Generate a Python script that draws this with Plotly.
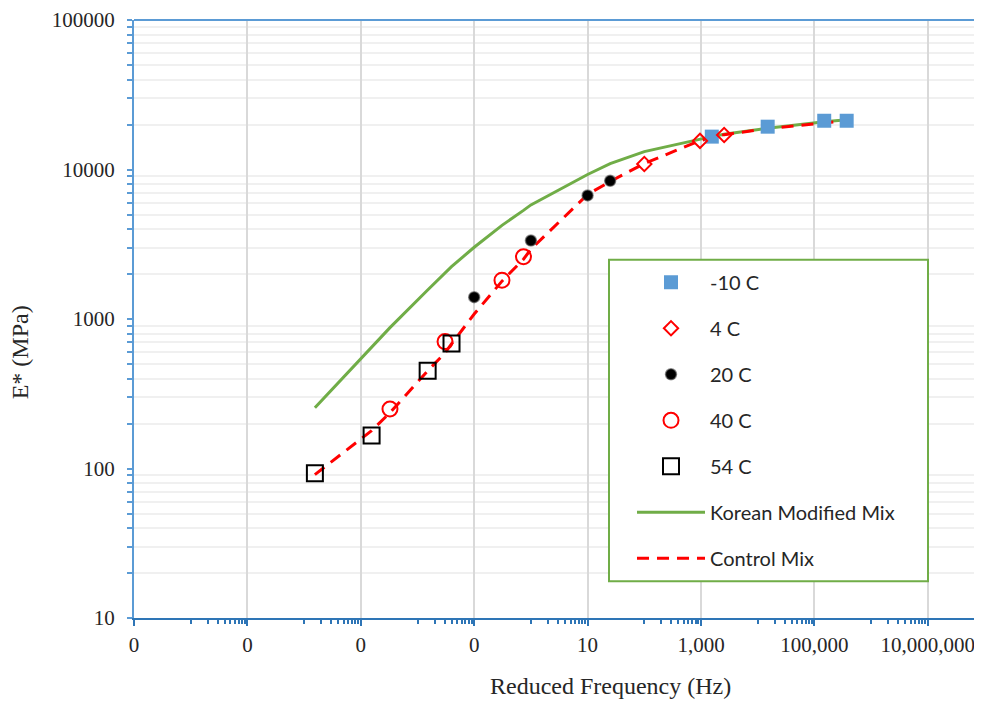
import plotly.graph_objects as go

# ---------------- data ----------------
freq_m10 = [1550, 15000, 149000, 371000]
e_m10 = [16600, 19350, 21200, 21200]

freq_4 = [100, 960, 2560]
e_4 = [10900, 15540, 17030]

freq_20 = [0.1, 1, 10, 25]
e_20 = [1400, 3350, 6710, 8410]

freq_40 = [0.00327, 0.0306, 0.309, 0.74]
e_40 = [250, 706, 1820, 2610]

freq_54 = [1.55e-4, 1.55e-3, 0.0151, 0.0398]
e_54 = [93, 166, 450, 685]

freq_model = [1.55e-4, 1.55e-3, 0.00327, 0.0151, 0.0306, 0.0398, 0.1, 0.309, 0.74, 1,
              10, 25, 100, 960, 1550, 2560, 15000, 149000, 371000]
e_korean = [255, 653, 876, 1563, 2026, 2239, 3020, 4233, 5329, 5800,
            9261, 10965, 13183, 16097, 16596, 17244, 18910, 20893, 21544]
e_control = [91, 179, 236, 450, 593, 681, 1080, 1792, 2512, 2929,
             6813, 8318, 10965, 15609, 16336, 17113, 18766, 20570, 21219]

x_tickvals = [1e-7, 1e-5, 1e-3, 1e-1, 10, 1e3, 1e5, 1e7]
x_ticktext = ["0", "0", "0", "0", "10", "1,000", "100,000", "10,000,000"]
y_tickvals = [10, 100, 1000, 10000, 100000]
y_ticktext = ["10", "100", "1000", "10000", "100000"]

# minor tick positions (axis decoration)
x_minor = [k * 10.0 ** (e + 1) for e in range(-7, 8, 2) for k in range(1, 10)]
y_minor = [k * 10.0 ** e for e in range(1, 5) for k in range(2, 10)]

SERIF = "Liberation Serif"
SANS = "Lato"
AX_BLUE = "#5b9bd5"
X_BLUE = "#2e75b6"
TXT = "#262626"

fig = go.Figure()

fig.add_trace(go.Scatter(
    x=freq_model, y=e_korean, mode="lines", name="Korean Modified Mix",
    line=dict(color="#70ad47", width=3), legendrank=6, legendgroup="g6"))
fig.add_trace(go.Scatter(
    x=freq_model, y=e_control, mode="lines", name="Control Mix",
    line=dict(color="#ff0000", width=3, dash="12px,8px"), legendrank=7, legendgroup="g7"))

fig.add_trace(go.Scatter(
    x=freq_m10, y=e_m10, mode="markers", name="-10 C",
    marker=dict(symbol="square", size=14, color="#5b9bd5", line=dict(width=0)),
    legendrank=1, legendgroup="g1"))
fig.add_trace(go.Scatter(
    x=freq_4, y=e_4, mode="markers", name="4 C",
    marker=dict(symbol="diamond-open", size=11, color="#ff0000", line=dict(width=2, color="#ff0000")),
    legendrank=2, legendgroup="g2"))
fig.add_trace(go.Scatter(
    x=freq_20, y=e_20, mode="markers", name="20 C",
    marker=dict(symbol="circle", size=11, color="#000000", line=dict(width=1.5, color="rgba(90,90,90,0.6)")),
    legendrank=3, legendgroup="g3"))
fig.add_trace(go.Scatter(
    x=freq_40, y=e_40, mode="markers", name="40 C",
    marker=dict(symbol="circle-open", size=15, color="#ff0000", line=dict(width=2, color="#ff0000")),
    legendrank=4, legendgroup="g4"))
fig.add_trace(go.Scatter(
    x=freq_54, y=e_54, mode="markers", name="54 C",
    marker=dict(symbol="square-open", size=16, color="#000000", line=dict(width=2, color="#000000")),
    legendrank=5, legendgroup="g5"))

# the page body has an 8px default margin, so the figure is drawn 8px smaller
OFF = 8
W, H = 982 - OFF, 702 - OFF
L, T = 134 - OFF, 17 - OFF
B = H - (618 - OFF)
R = 0
pw = W - L - R
ph = H - T - B


def px(x):
    return (x - 134) / pw


def py(y):
    return (618 - y) / ph


fig.update_layout(
    width=W, height=H,
    margin=dict(l=L, r=R, t=T, b=B, pad=0),
    paper_bgcolor="white", plot_bgcolor="white",
    showlegend=True,
    legend=dict(
        x=px(632), y=py(261), xanchor="left", yanchor="top",
        bgcolor="rgba(0,0,0,0)", borderwidth=0,
        font=dict(family=SANS, size=20, color=TXT),
        tracegroupgap=17, itemwidth=68,
        traceorder="grouped",
    ),
    xaxis=dict(
        type="log", range=[-7, 7.956],
        tickmode="array", tickvals=x_tickvals, ticktext=x_ticktext,
        showgrid=True, gridcolor="#d9d9d9", gridwidth=2,
        showline=True, linecolor=X_BLUE, linewidth=2,
        ticks="outside", ticklen=6, tickwidth=2, tickcolor=X_BLUE,
        ticklabelstandoff=1,
        tickfont=dict(family=SERIF, size=21, color=TXT),
        minor=dict(tickmode="array", tickvals=x_minor, ticks="outside", ticklen=4,
                   tickwidth=2, tickcolor=X_BLUE, showgrid=False),
        zeroline=False,
    ),
    yaxis=dict(
        type="log", range=[1, 5.0003],
        tickmode="array", tickvals=y_tickvals, ticktext=y_ticktext,
        showgrid=False,
        showline=True, linecolor=AX_BLUE, linewidth=2,
        ticks="outside", ticklen=5, tickwidth=2, tickcolor=AX_BLUE,
        ticklabelstandoff=8, ticklabeloverflow="allow",
        tickfont=dict(family=SERIF, size=21, color=TXT),
        minor=dict(tickmode="array", tickvals=y_minor, ticks="outside", ticklen=5,
                   tickwidth=2, tickcolor=AX_BLUE, showgrid=True,
                   gridcolor="#f0f0f0", gridwidth=2),
        zeroline=False,
    ),
    annotations=[
        dict(text="Reduced Frequency (Hz)", xref="paper", yref="paper",
             x=px(610), y=py(686), xanchor="center", yanchor="middle",
             showarrow=False, font=dict(family=SERIF, size=24, color=TXT)),
        dict(text="E* (MPa)", xref="paper", yref="paper", textangle=-90,
             x=px(20), y=py(351), xanchor="center", yanchor="middle",
             showarrow=False, font=dict(family=SERIF, size=24, color=TXT)),
    ],
    shapes=[
        dict(type="line", xref="paper", yref="paper", x0=0, x1=1, y0=1, y1=1,
             line=dict(color=AX_BLUE, width=2)),
        dict(type="rect", xref="paper", yref="paper", layer="above",
             x0=px(609), x1=px(928), y0=py(581), y1=py(258),
             fillcolor="white", line=dict(color="#70ad47", width=2)),
    ],
)

fig.write_html("out.html")
